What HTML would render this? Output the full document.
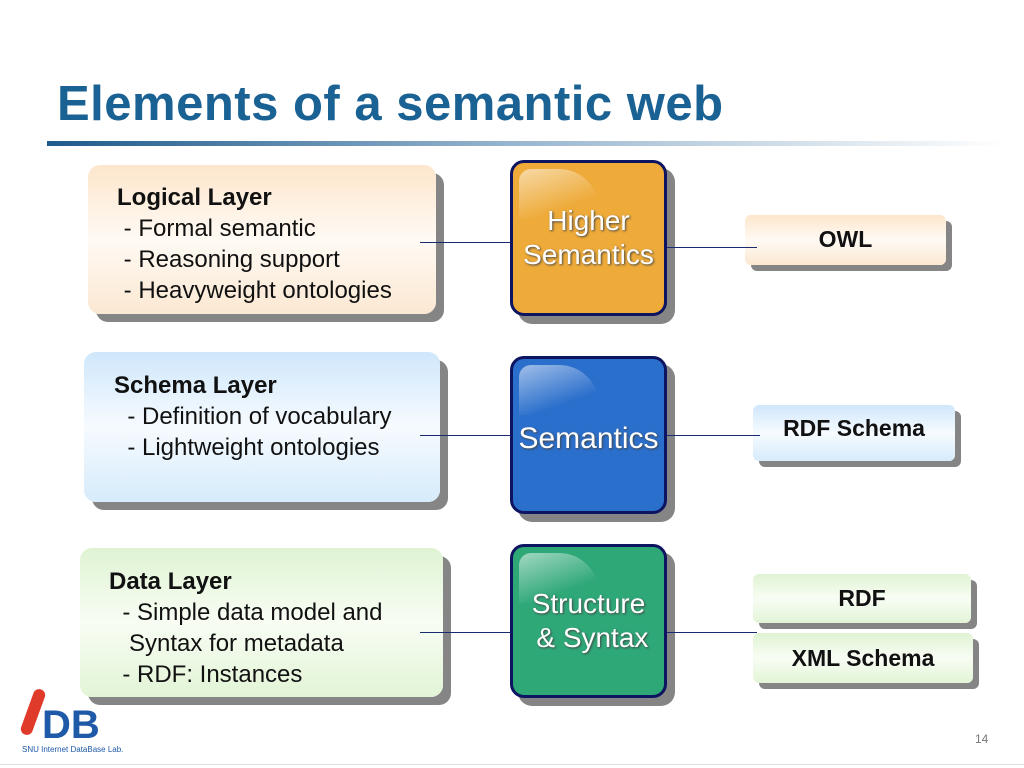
<!DOCTYPE html>
<html><head><style>
body{margin:0;width:1024px;height:768px;background:#fff;position:relative;overflow:hidden;font-family:"Liberation Sans",sans-serif}
.a{position:absolute}
.box{position:absolute;border-radius:12px;box-shadow:8px 8px 0 #858585}
.t{font-size:24px;color:#111;line-height:31px}
.c{position:absolute;border:3px solid #0d1560;border-radius:14px;box-shadow:8px 8px 0 #858585;color:#fff;text-align:center;text-shadow:1px 1px 2px #444;display:flex;align-items:center;justify-content:center;overflow:hidden}
.c:before{content:"";position:absolute;left:6px;top:6px;width:80px;height:50px;border-radius:12px 40px 0 0;background:linear-gradient(160deg,rgba(255,255,255,.55),rgba(255,255,255,0) 70%)}
.r{position:absolute;border-radius:6px;box-shadow:6px 6px 0 #858585;font-weight:bold;font-size:23px;color:#111;text-align:center}
.l{position:absolute;height:1px;background:#1a2a70;z-index:2}
</style></head><body>
<div class="a" style="left:57px;top:76px;font-size:49px;font-weight:bold;color:#1a6194;letter-spacing:0.5px">Elements of a semantic web</div>
<div class="a" style="left:47px;top:141px;width:960px;height:5px;background:linear-gradient(90deg,#1e5a8c,#9bb8d0 50%,#fff)"></div>

<div class="box" style="left:88px;top:165px;width:348px;height:149px;background:linear-gradient(180deg,#fde6cc,#fffaf4 50%,#fbe8d2)"></div>
<div class="a t" style="left:117px;top:182px"><b>Logical Layer</b><br>&nbsp;- Formal semantic<br>&nbsp;- Reasoning support<br>&nbsp;- Heavyweight ontologies</div>
<div class="box" style="left:84px;top:352px;width:356px;height:150px;background:linear-gradient(180deg,#cfe7fb,#f6fbff 50%,#d6ebfb)"></div>
<div class="a t" style="left:114px;top:370px"><b>Schema Layer</b><br>&nbsp;&nbsp;- Definition of vocabulary<br>&nbsp;&nbsp;- Lightweight ontologies</div>
<div class="box" style="left:80px;top:548px;width:363px;height:149px;background:linear-gradient(180deg,#dff3d3,#f8fdf4 50%,#e2f4d6)"></div>
<div class="a t" style="left:109px;top:566px"><b>Data Layer</b><br>&nbsp;&nbsp;- Simple data model and<br>&nbsp;&nbsp;&nbsp;Syntax for metadata<br>&nbsp;&nbsp;- RDF: Instances</div>

<div class="l" style="left:420px;top:242px;width:90px"></div>
<div class="l" style="left:667px;top:247px;width:90px"></div>
<div class="l" style="left:420px;top:435px;width:90px"></div>
<div class="l" style="left:667px;top:435px;width:93px"></div>
<div class="l" style="left:420px;top:632px;width:90px"></div>
<div class="l" style="left:667px;top:632px;width:90px"></div>

<div class="c" style="left:510px;top:160px;width:151px;height:150px;background:#eeab3a;font-size:28px;line-height:34px">Higher<br>Semantics</div>
<div class="c" style="left:510px;top:356px;width:151px;height:144px;padding-top:8px;background:#2b6fcc;font-size:30px">Semantics</div>
<div class="c" style="left:510px;top:544px;width:151px;height:148px;background:#2fa878;font-size:28px;line-height:34px">Structure<br>&nbsp;&amp; Syntax</div>

<div class="r" style="left:745px;top:215px;width:201px;height:50px;line-height:48px;background:linear-gradient(180deg,#fde6cc,#fffaf4 50%,#fbe8d2)">OWL</div>
<div class="r" style="left:753px;top:405px;width:202px;height:56px;line-height:46px;background:linear-gradient(180deg,#cfe7fb,#f6fbff 50%,#d6ebfb)">RDF Schema</div>
<div class="r" style="left:753px;top:574px;width:218px;height:49px;line-height:48px;background:linear-gradient(180deg,#dff3d3,#f8fdf4 50%,#e2f4d6)">RDF</div>
<div class="r" style="left:753px;top:633px;width:220px;height:50px;line-height:50px;background:linear-gradient(180deg,#dff3d3,#f8fdf4 50%,#e2f4d6)">XML Schema</div>

<div class="a" style="left:27px;top:688px;width:12px;height:48px;background:#e03a2a;border-radius:6px;transform:rotate(20deg)"></div>
<div class="a" style="left:42px;top:706px;font-size:40px;font-weight:bold;color:#1f5aa8;line-height:38px">DB</div>
<div class="a" style="left:22px;top:745px;font-size:8px;color:#1f5aa8">SNU Internet DataBase Lab.</div>
<div class="a" style="left:975px;top:732px;font-size:12px;color:#777">14</div>
<div class="a" style="left:0;top:764px;width:1024px;height:1px;background:#ddd"></div>
</body></html>
